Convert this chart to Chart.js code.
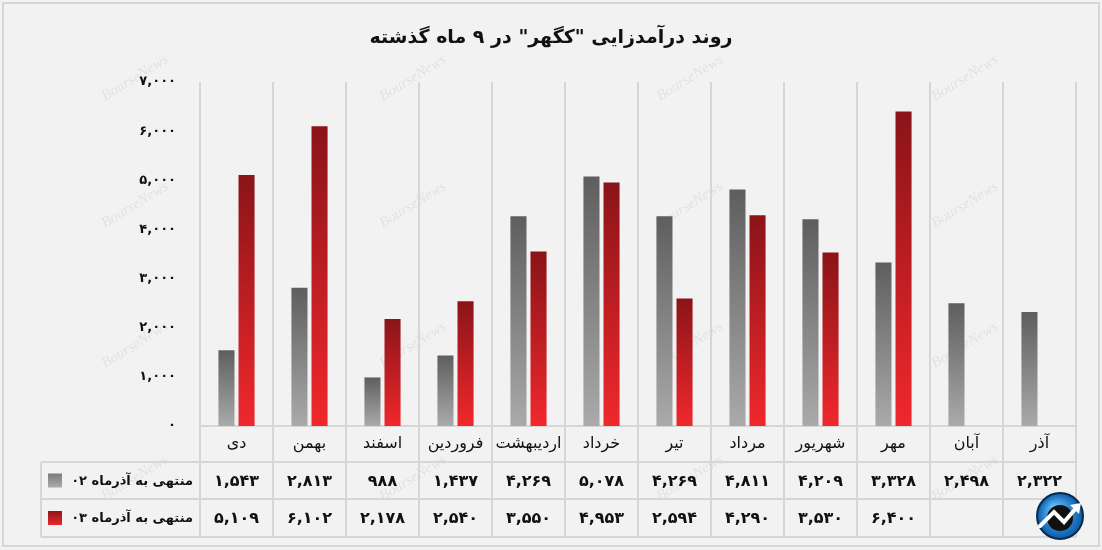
<!DOCTYPE html>
<html lang="fa">

<head>
    <meta charset="UTF-8" />
    <title>روند درآمدزایی کگهر</title>
    <script src="https://cdn.jsdelivr.net/npm/chart.js"></script>
    <style>
        body { margin: 0; background: #fff; }
        #box { width: 1102px; height: 550px; }
    </style>
</head>

<body>
    <div id="box">
        <canvas id="grafico" width="1102" height="550"></canvas>
    </div>
</body>

</html>
<script>
    // dados
    const titulo = 'روند درآمدزایی "کگهر" در ۹ ماه گذشته';
    const meses = ['دی', 'بهمن', 'اسفند', 'فروردین', 'اردیبهشت', 'خرداد', 'تیر', 'مرداد', 'شهریور', 'مهر', 'آبان', 'آذر'];
    const serie02 = [1543, 2813, 988, 1437, 4269, 5078, 4269, 4811, 4209, 3328, 2498, 2322];
    const serie03 = [5109, 6102, 2178, 2540, 3550, 4953, 2594, 4290, 3530, 6400, null, null];
    const nomesSeries = ['منتهی به آذرماه ۰۲', 'منتهی به آذرماه ۰۳'];
    const eixoMax = 7000;
    const eixoPasso = 1000;

    const FONTE = '"DejaVu Sans", sans-serif';

    function persa(n) {
        const d = '۰۱۲۳۴۵۶۷۸۹';
        return n.toLocaleString('en-US').replace(/[0-9]/g, c => d[c]);
    }

    function gradiente(ctx, cima, baixo) {
        const chart = ctx.chart;
        if (!chart.chartArea || ctx.type !== 'data' || ctx.raw == null) return baixo;
        const y = chart.scales.y;
        const g = chart.ctx.createLinearGradient(0, y.getPixelForValue(ctx.raw), 0, y.getPixelForValue(0));
        g.addColorStop(0, cima);
        g.addColorStop(1, baixo);
        return g;
    }

    const fundo = {
        id: 'fundo',
        beforeDraw(chart) {
            const c = chart.ctx;
            c.save();
            c.fillStyle = '#f2f2f2';
            c.fillRect(0, 0, chart.width, chart.height);
            c.strokeStyle = '#d6d6d6';
            c.lineWidth = 2;
            c.strokeRect(3, 3, chart.width - 6, chart.height - 7);

            // marca d'agua
            c.font = 'italic 15px "Liberation Serif", serif';
            c.fillStyle = 'rgba(0,0,0,0.07)';
            c.textAlign = 'center';
            c.textBaseline = 'middle';
            [135, 413, 690, 965].forEach(x => {
                [78, 205, 345, 478].forEach(y => {
                    c.save();
                    c.translate(x, y);
                    c.rotate(-0.55);
                    c.fillText('BourseNews', 0, 0);
                    c.restore();
                });
            });

            // titulo
            c.direction = 'rtl';
            c.fillStyle = '#111';
            c.font = 'bold 19px ' + FONTE;
            c.textAlign = 'center';
            c.fillText(titulo, 551, 38);
            c.restore();
        },
        beforeDatasetsDraw(chart) {
            const c = chart.ctx;
            const x = chart.scales.x;
            const area = chart.chartArea;
            const n = meses.length;
            const larg = (area.right - area.left) / n;
            const esq = 41, y1 = area.bottom + 36, y2 = y1 + 37, y3 = y2 + 38;
            c.save();
            c.strokeStyle = '#d6d6d6';
            c.lineWidth = 2;
            c.beginPath();
            for (let i = 0; i <= n; i++) {
                const px = Math.round(area.left + i * larg);
                c.moveTo(px, area.top);
                c.lineTo(px, y3);
            }
            c.moveTo(area.left, area.bottom);
            c.lineTo(area.right, area.bottom);
            [y1, y2, y3].forEach(y => {
                c.moveTo(esq, y);
                c.lineTo(area.right, y);
            });
            c.moveTo(esq, y1);
            c.lineTo(esq, y3);
            c.stroke();

            // linhas da tabela
            c.fillStyle = '#111';
            c.textAlign = 'center';
            c.textBaseline = 'middle';
            [serie02, serie03].forEach((serie, s) => {
                const yy = s === 0 ? (y1 + y2) / 2 : (y2 + y3) / 2;
                c.font = 'bold 16px ' + FONTE;
                serie.forEach((v, i) => {
                    if (v == null) return;
                    c.fillText(persa(v), x.getPixelForValue(i), yy + 1);
                });
                c.save();
                c.direction = 'rtl';
                c.textAlign = 'right';
                c.font = 'bold 13px ' + FONTE;
                c.fillText(nomesSeries[s], area.left - 7, yy + 1);
                c.restore();
                const g = c.createLinearGradient(0, yy - 7, 0, yy + 7);
                if (s === 0) { g.addColorStop(0, '#7a7a7a'); g.addColorStop(1, '#adadad'); }
                else { g.addColorStop(0, '#8e161a'); g.addColorStop(1, '#ee272c'); }
                c.fillStyle = g;
                c.fillRect(48, yy - 7, 14, 14);
                c.fillStyle = '#111';
            });
            c.restore();
        },
        afterDraw(chart) {
            // logo
            const c = chart.ctx;
            const cx = 1060, cy = 516, r = 23;
            c.save();
            const g = c.createRadialGradient(cx - 6, cy - 8, 2, cx, cy, r);
            g.addColorStop(0, '#63c3ff');
            g.addColorStop(1, '#0a5aa8');
            c.fillStyle = g;
            c.beginPath();
            c.arc(cx, cy, r, 0, Math.PI * 2);
            c.fill();
            c.lineWidth = 2;
            c.strokeStyle = '#0a2a4a';
            c.stroke();
            c.fillStyle = '#111';
            c.beginPath();
            c.arc(cx, cy + 2, 13, 0, Math.PI * 2);
            c.fill();
            c.strokeStyle = '#fff';
            c.lineWidth = 4;
            c.lineCap = 'round';
            c.beginPath();
            c.moveTo(cx - 20, cy + 10);
            c.lineTo(cx - 6, cy - 4);
            c.lineTo(cx + 4, cy + 6);
            c.lineTo(cx + 17, cy - 9);
            c.stroke();
            c.fillStyle = '#fff';
            c.beginPath();
            c.moveTo(cx + 21, cy - 13);
            c.lineTo(cx + 10, cy - 11);
            c.lineTo(cx + 19, cy - 2);
            c.closePath();
            c.fill();
            c.restore();
        }
    };

    const config = {
        type: 'bar',
        data: {
            labels: meses,
            datasets: [{
                label: nomesSeries[0],
                data: serie02,
                backgroundColor: ctx => gradiente(ctx, '#5e5e5e', '#aaaaaa'),
                barPercentage: 0.8,
                categoryPercentage: 0.55
            }, {
                label: nomesSeries[1],
                data: serie03,
                backgroundColor: ctx => gradiente(ctx, '#8a1418', '#f0282d'),
                barPercentage: 0.8,
                categoryPercentage: 0.55
            }]
        },
        options: {
            responsive: false,
            animation: false,
            layout: { padding: { top: 82, right: 26, bottom: 88, left: 0 } },
            plugins: {
                legend: { display: false },
                tooltip: { enabled: false }
            },
            scales: {
                x: {
                    grid: { display: false, drawTicks: false },
                    border: { display: false },
                    ticks: { color: '#111', font: { family: FONTE, size: 16 }, padding: 8 },
                    afterFit: s => { s.height = 36; }
                },
                y: {
                    min: 0,
                    max: eixoMax,
                    grid: { display: false, drawTicks: false },
                    border: { display: false },
                    ticks: {
                        stepSize: eixoPasso,
                        color: '#111',
                        padding: 24,
                        font: { family: FONTE, size: 13, weight: 'bold' },
                        callback: v => persa(v)
                    },
                    afterFit: s => { s.width = 200; }
                }
            }
        },
        plugins: [fundo]
    };

    new Chart(document.getElementById('grafico'), config);
</script>
